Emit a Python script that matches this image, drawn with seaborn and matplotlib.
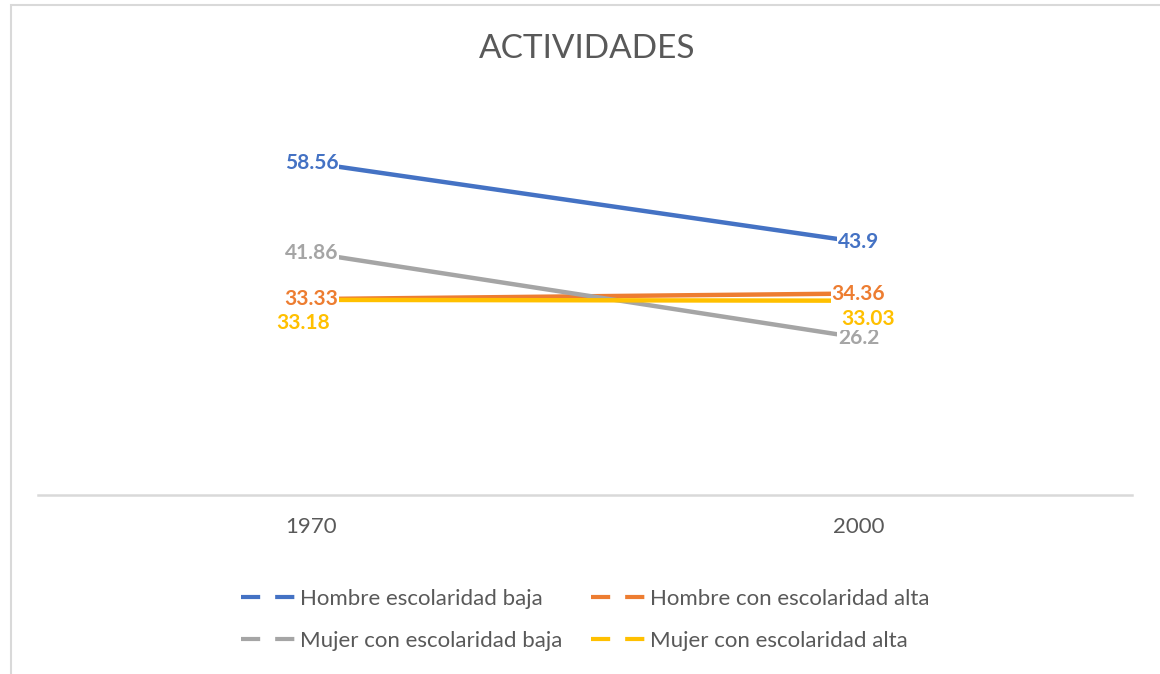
import seaborn as sns
import pandas as pd
import matplotlib.pyplot as plt
from matplotlib.lines import Line2D
from matplotlib.patches import Rectangle

# data
years = ["1970", "2000"]
series = ["Hombre escolaridad baja", "Hombre con escolaridad alta",
          "Mujer con escolaridad baja", "Mujer con escolaridad alta"]
hombre_baja = [58.56, 43.9]
hombre_alta = [33.33, 34.36]
mujer_baja = [41.86, 26.2]
mujer_alta = [33.18, 33.03]
colors = ["#4472C4", "#ED7D31", "#A5A5A5", "#FFC000"]

values = [hombre_baja, hombre_alta, mujer_baja, mujer_alta]
rows = []
for name, vals in zip(series, values):
    for y, v in zip(years, vals):
        rows.append({"year": y, "value": v, "serie": name})
df = pd.DataFrame(rows)

sns.set_style("white")
plt.rcParams["font.family"] = ["Lato", "DejaVu Sans"]

fig = plt.figure(figsize=(11.6, 6.74), dpi=100)
ax = fig.add_axes([38 / 1160, 1 - 495 / 674, (1132 - 38) / 1160, (495 - 100) / 674])

sns.lineplot(data=df, x="year", y="value", hue="serie", hue_order=series,
             palette=dict(zip(series, colors)), linewidth=3.2, legend=False, ax=ax)

ax.set_xlim(-0.5, 1.5)
ax.set_ylim(-2.96, 70.2)
ax.set_xlabel("")
ax.set_ylabel("")
ax.set_yticks([])
for s in ["top", "left", "right"]:
    ax.spines[s].set_visible(False)
ax.spines["bottom"].set_color("#D9D9D9")
ax.spines["bottom"].set_linewidth(1.8)
ax.tick_params(axis="x", length=0, pad=16, labelsize=16, labelcolor="#595959")

# data labels, centered on points (offsets in points for the yellow ones)
offsets = {
    3: [(-6, -17), (7, -13)],
}
for i, (name, vals) in enumerate(zip(series, values)):
    for j, v in enumerate(vals):
        dx, dy = offsets.get(i, [(0, 0), (0, 0)])[j]
        ax.annotate(f"{v:g}", (j, v), xytext=(dx, dy), textcoords="offset points",
                    ha="center", va="center", fontsize=15, fontweight="bold",
                    color=colors[i], zorder=5,
                    bbox=dict(boxstyle="square,pad=0.05", fc="white", ec="none"))

fig.text(587 / 1160, 1 - 49 / 674, "ACTIVIDADES", ha="center", va="center",
         fontsize=24, color="#595959")

# legend filled row by row like the original
handles = [Line2D([], [], color=c, linewidth=3, linestyle=(0, (4.6, 3.6)),
                  dash_capstyle="butt") for c in colors]
order = [0, 2, 1, 3]
fig.legend([handles[k] for k in order], [series[k] for k in order], ncol=2, loc="center",
           bbox_to_anchor=(585 / 1160, 1 - 620 / 674),
           frameon=False, fontsize=16, labelcolor="#595959", handlelength=2.45,
           handletextpad=0.2, columnspacing=1.3, labelspacing=1.0)

fig.patches.append(Rectangle((11 / 1160, -0.1), 1.2, 1.1 - 5 / 674, transform=fig.transFigure,
                             fill=False, edgecolor="#D9D9D9", linewidth=1.5))

fig.savefig("out.png", dpi=100)
